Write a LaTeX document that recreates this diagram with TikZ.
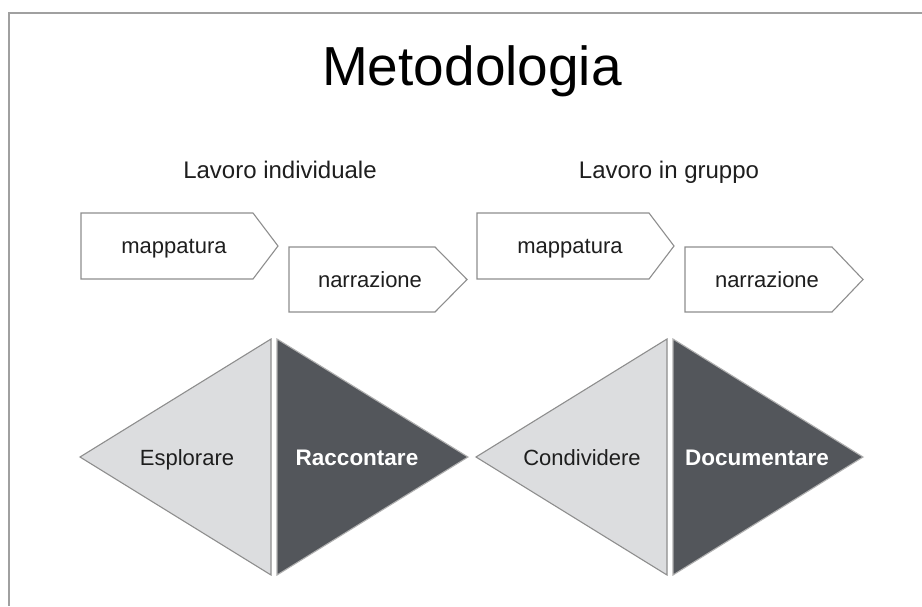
\documentclass[tikz,border=0pt]{standalone}
\usepackage{fontspec}
\setmainfont{Liberation Sans}
\definecolor{framegray}{HTML}{A0A0A0}
\definecolor{outline}{HTML}{8E8E8E}
\definecolor{lightfill}{HTML}{DCDDDF}
\definecolor{darkfill}{HTML}{53565B}
\definecolor{textc}{HTML}{1E1E1E}
\tikzset{
  pent/.style={draw=outline, line width=1.1pt, fill=white, line join=miter},
  lighttri/.style={draw=outline, line width=1.1pt, fill=lightfill},
  darktri/.style={draw=outline!70, line width=1.1pt, fill=darkfill},
  lbl/.style={anchor=base, inner sep=0pt, text=textc, font=\fontsize{22}{26}\selectfont},
  boldlbl/.style={anchor=base, inner sep=0pt, text=white, font=\fontsize{22.5}{26}\selectfont\bfseries},
  head/.style={anchor=base, inner sep=0pt, text=textc, font=\fontsize{24}{28}\selectfont},
}
\begin{document}
\begin{tikzpicture}[x=1pt,y=-1pt]
\useasboundingbox (0,0) rectangle (922,606);
\fill[white] (0,0) rectangle (922,606);
\draw[framegray, line width=1.6pt] (922,13) -- (9,13) -- (9,606);

% title
\node[anchor=base, inner sep=0pt, text=black, font=\fontsize{55}{60}\selectfont] (title) at (472,85) {Metodologia};

% headings
\node[head] (h1) at (280,178) {Lavoro individuale};
\node[head] (h2) at (669,178) {Lavoro in gruppo};

% pentagons
\draw[pent] (81,213) -- (253,213) -- (278,246) -- (253,279) -- (81,279) -- cycle;
\draw[pent] (289,247) -- (435,247) -- (467,279.5) -- (435,312) -- (289,312) -- cycle;
\draw[pent] (477,213) -- (649,213) -- (674,246) -- (649,279) -- (477,279) -- cycle;
\draw[pent] (685,247) -- (832,247) -- (863,279.5) -- (832,312) -- (685,312) -- cycle;
\node[lbl] (m1) at (174,253) {mappatura};
\node[lbl] (n1) at (370,287) {narrazione};
\node[lbl] (m2) at (570,253) {mappatura};
\node[lbl] (n2) at (767,287) {narrazione};

% diamonds
\draw[lighttri] (80,457) -- (271,339) -- (271,575) -- cycle;
\draw[darktri] (277,339) -- (468,457) -- (277,575) -- cycle;
\draw[lighttri] (476,457) -- (667,339) -- (667,575) -- cycle;
\draw[darktri] (673,339) -- (863,457) -- (673,575) -- cycle;
\node[lbl] (e) at (187,465) {Esplorare};
\node[boldlbl] (r) at (357,465) {Raccontare};
\node[lbl] (c) at (582,465) {Condividere};
\node[boldlbl] (d) at (757,465) {Documentare};
\end{tikzpicture}
\end{document}
